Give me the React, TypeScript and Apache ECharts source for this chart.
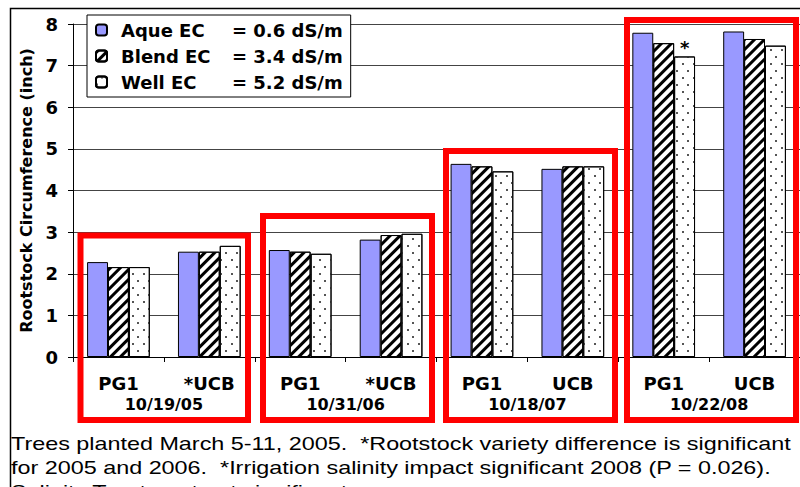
import React, { useEffect, useRef } from "react";
import * as echarts from "echarts";

const categories = ["PG1", "*UCB", "PG1", "*UCB", "PG1", "UCB", "PG1", "UCB"];
const dates = ["10/19/05", "10/31/06", "10/18/07", "10/22/08"];
const seriesNames = ["Aque", "Blend", "Well"];
const legendLeft = ["Aque EC", "Blend EC", "Well EC"];
const legendRight = ["= 0.6 dS/m", "= 3.4 dS/m", "= 5.2 dS/m"];
const aque = [2.28, 2.53, 2.57, 2.82, 4.64, 4.52, 7.79, 7.82];
const blend = [2.16, 2.53, 2.53, 2.93, 4.58, 4.58, 7.54, 7.64];
const well = [2.16, 2.67, 2.48, 2.96, 4.46, 4.58, 7.22, 7.48];
const starIndex = 6; // significant difference marker on Well series
const yTicks = { min: 0, max: 8, interval: 1 };
const noteLines = [
  "Trees planted March 5-11, 2005.  *Rootstock variety difference is significant",
  "for 2005 and 2006.  *Irrigation salinity impact significant 2008 (P = 0.026).",
  "Salinity Treatment not significant.",
];

const BOLD = "'DejaVu Sans', sans-serif";

export default function App() {
  const ref = useRef<HTMLDivElement>(null);
  useEffect(() => {
    if (!ref.current) return;
    const chart = echarts.init(ref.current, undefined, { renderer: "svg" });
    const redBoxes = [
      [80.5, 235.5, 167.5, 184.5],
      [263, 216, 169, 204],
      [446, 151, 169, 269],
      [627, 20, 169, 400],
    ];
    const option: any = {
      animation: false,
      backgroundColor: "#fff",
      grid: { left: 73, top: 24, width: 734, height: 333, containLabel: false },
      legend: {
        orient: "vertical",
        left: 87,
        top: 15,
        backgroundColor: "#fff",
        borderColor: "#000",
        borderWidth: 1,
        padding: [6, 8, 6, 8],
        itemWidth: 11,
        itemHeight: 11,
        itemGap: 8,
        data: seriesNames,
        formatter: (name: string) => {
          const i = seriesNames.indexOf(name);
          return `{a|${legendLeft[i]}}{b|${legendRight[i]}}`;
        },
        textStyle: {
          padding: [0, 0, 0, 9],
          rich: {
            a: { fontFamily: BOLD, fontWeight: "bold", fontSize: 18, color: "#000", width: 111, lineHeight: 21 },
            b: { fontFamily: BOLD, fontWeight: "bold", fontSize: 18, color: "#000", lineHeight: 21 },
          },
        },
      },
      xAxis: [
        {
          type: "category",
          data: categories,
          axisLine: { lineStyle: { color: "#000", width: 1 } },
          axisTick: { show: true, length: 5, lineStyle: { color: "#000" } },
          axisLabel: { margin: 17, fontFamily: BOLD, fontWeight: "bold", fontSize: 18, color: "#000" },
        },
        {
          type: "category",
          data: dates,
          position: "bottom",
          axisLine: { show: false },
          axisTick: { show: false },
          axisLabel: { margin: 39, fontFamily: BOLD, fontWeight: "bold", fontSize: 16, color: "#000" },
        },
      ],
      yAxis: {
        type: "value",
        min: yTicks.min,
        max: yTicks.max,
        interval: yTicks.interval,
        name: "Rootstock Circumference (inch)",
        nameLocation: "middle",
        nameGap: 38,
        nameTextStyle: { fontFamily: BOLD, fontWeight: "bold", fontSize: 16, color: "#000" },
        axisLine: { show: true, lineStyle: { color: "#000", width: 1 } },
        axisTick: { show: true, length: 5, lineStyle: { color: "#000" } },
        axisLabel: { margin: 15, fontFamily: BOLD, fontWeight: "bold", fontSize: 18, color: "#000" },
        splitLine: { lineStyle: { color: "#444", width: 1 } },
      },
      series: [
        {
          name: "Aque",
          type: "bar",
          data: aque,
          barGap: "0%",
          barCategoryGap: "31%",
          itemStyle: { color: "#9999FF", borderColor: "#000", borderWidth: 1 },
        },
        {
          name: "Blend",
          type: "bar",
          data: blend,
          barGap: "0%",
          barCategoryGap: "31%",
          itemStyle: {
            color: "#fff",
            borderColor: "#000",
            borderWidth: 1,
            decal: {
              symbol: "rect",
              symbolSize: 1,
              color: "#000",
              dashArrayX: [1, 0],
              dashArrayY: [3, 3.5],
              rotation: -Math.PI / 4,
            },
          },
        },
        {
          name: "Well",
          type: "bar",
          data: well.map((v, i) =>
            i === starIndex
              ? {
                  value: v,
                  label: {
                    show: true,
                    position: "top",
                    distance: 0,
                    formatter: "*",
                    fontFamily: BOLD,
                    fontWeight: "bold",
                    fontSize: 18,
                    color: "#000",
                  },
                }
              : v
          ),
          barGap: "0%",
          barCategoryGap: "31%",
          itemStyle: {
            color: "#fff",
            borderColor: "#000",
            borderWidth: 1,
            decal: {
              symbol: "rect",
              symbolSize: 1,
              color: "#555",
              dashArrayX: [[1.5, 8.5], [0, 5, 1.5, 3.5]],
              dashArrayY: [1.5, 4.5],
              rotation: 0,
            },
          },
        },
      ],
      graphic: [
        {
          type: "rect",
          shape: { x: 10.5, y: 8.5, width: 800, height: 500 },
          style: { fill: "none", stroke: "#000", lineWidth: 1.5 },
          silent: true,
          z: 0,
        },
        ...redBoxes.map(([x, y, w, h]) => ({
          type: "rect",
          shape: { x, y, width: w, height: h },
          style: { fill: "none", stroke: "#FF0000", lineWidth: 6 },
          silent: true,
          z: 50,
        })),
        ...noteLines.map((t, i) => ({
          type: "text",
          x: 11,
          y: 434 + i * 24,
          scaleX: 1.23,
          style: {
            text: t,
            x: 0,
            y: 0,
            fontFamily: "'Liberation Sans', Arial, sans-serif",
            fontSize: 19,
            fill: "#000",
            verticalAlign: "top",
            align: "left",
          },
          silent: true,
          z: 50,
        })),
      ],
    };
    chart.setOption(option);
    return () => chart.dispose();
  }, []);
  return (
    <div
      ref={ref}
      style={{ position: "fixed", left: 0, top: 0, width: 800, height: 487, background: "#fff" }}
    />
  );
}
